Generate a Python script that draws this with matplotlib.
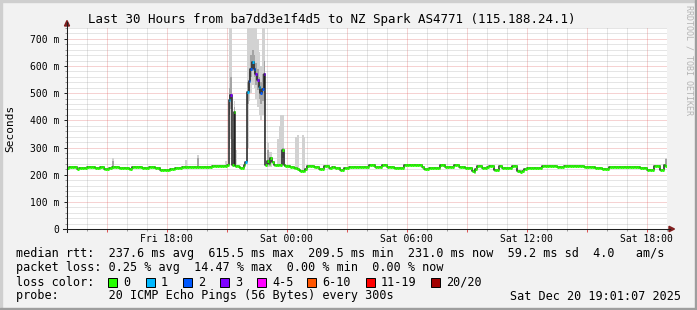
import datetime as dt
import numpy as np
import matplotlib
matplotlib.use('Agg')
import matplotlib.pyplot as plt
import matplotlib.dates as mdates
from matplotlib.patches import Rectangle, Polygon
from matplotlib.ticker import FuncFormatter, MultipleLocator

plt.rcParams['font.family'] = 'DejaVu Sans Mono'

# median rtt (ms), one value per 5 min step, Fri 13:01 -> Sat 19:01
median_ms = [
    224, 228, 228, 228, 228, 228,
    221, 226, 226, 226, 226, 226,
    228, 228, 228, 228, 228, 226,
    226, 226, 228, 228, 221, 221,
    221, 223, 223, 228, 228, 228,
    228, 226, 226, 226, 226, 226,
    226, 220, 220, 227, 227, 227,
    227, 227, 227, 223, 223, 223,
    223, 227, 227, 227, 227, 223,
    223, 223, 219, 219, 219, 219,
    219, 219, 221, 221, 221, 226,
    226, 223, 223, 228, 228, 228,
    228, 228, 228, 228, 228, 228,
    229, 229, 229, 229, 229, 229,
    229, 229, 229, 232, 232, 232,
    232, 232, 232, 232, 233, 233,
    236, 475, 494, 236, 431, 232,
    232, 230, 226, 226, 236, 248,
    505, 545, 590, 615, 590, 570,
    550, 522, 502, 515, 572, 236,
    250, 240, 262, 245, 236, 234,
    234, 234, 236, 290, 236, 232,
    232, 232, 228, 228, 226, 226,
    222, 218, 214, 213, 215, 220,
    232, 232, 232, 232, 227, 227,
    227, 222, 222, 222, 232, 232,
    232, 226, 226, 229, 229, 224,
    224, 224, 217, 217, 224, 224,
    224, 230, 230, 230, 230, 230,
    230, 230, 230, 230, 230, 230,
    230, 234, 234, 234, 234, 227,
    227, 227, 227, 234, 234, 234,
    227, 227, 227, 227, 224, 224,
    224, 224, 224, 224, 235, 235,
    235, 235, 235, 235, 235, 235,
    235, 235, 235, 230, 220, 220,
    220, 226, 226, 226, 226, 226,
    226, 226, 234, 234, 234, 230,
    230, 230, 230, 230, 234, 234,
    234, 227, 227, 227, 227, 224,
    224, 224, 224, 214, 211, 220,
    232, 232, 232, 224, 224, 224,
    230, 232, 232, 232, 217, 217,
    217, 232, 232, 226, 226, 226,
    226, 226, 226, 232, 232, 232,
    214, 214, 211, 214, 220, 220,
    224, 224, 224, 224, 224, 224,
    224, 224, 224, 232, 232, 232,
    232, 232, 232, 232, 232, 232,
    227, 227, 227, 227, 232, 232,
    232, 232, 232, 232, 232, 232,
    232, 232, 232, 232, 227, 227,
    227, 227, 230, 230, 230, 224,
    224, 224, 224, 222, 222, 222,
    222, 230, 230, 230, 230, 230,
    230, 230, 230, 227, 227, 227,
    227, 227, 227, 230, 230, 230,
    230, 230, 226, 226, 226, 226,
    217, 217, 217, 217, 232, 232,
    232, 232, 217, 217, 234, 231,
]

# steps with packet loss (index into legend bins)
loss_steps = [97, 98, 107, 108, 109, 110, 111, 112, 113, 114, 115, 116, 117, 118]
loss_bins = [1, 3, 1, 1, 2, 2, 1, 2, 3, 3, 1, 2, 2, 3]

# smoke: full ping spread (light) where visible
smoke_steps = [27, 71, 78, 95, 97, 98, 99, 100, 101, 108, 109, 110, 111, 112, 113,
               114, 115, 116, 117, 118, 120, 121, 122, 126, 127, 128, 129, 130,
               137, 138, 141, 142, 359]
smoke_lo = [222, 220, 226, 230, 300, 330, 232, 240, 228, 300, 470, 500, 530, 520, 480,
            450, 420, 400, 420, 300, 228, 228, 230, 230, 240, 240, 240, 230,
            222, 218, 213, 215, 230]
smoke_hi = [260, 254, 273, 250, 760, 760, 330, 470, 290, 760, 760, 760, 760, 760, 760,
            700, 650, 600, 760, 760, 317, 283, 283, 330, 380, 420, 420, 300,
            340, 346, 346, 340, 262]

# darker core of the smoke
core_steps = [27, 78, 97, 98, 100, 108, 109, 110, 111, 112, 113, 114, 115, 116, 117,
              118, 120, 129, 359]
core_lo = [228, 230, 420, 440, 360, 460, 510, 560, 580, 560, 530, 510, 480, 460, 470,
           500, 240, 260, 234]
core_hi = [250, 262, 520, 560, 450, 540, 580, 640, 660, 640, 610, 590, 560, 540, 570,
           620, 290, 300, 258]

loss_labels = ['0', '1', '2', '3', '4-5', '6-10', '11-19', '20/20']
loss_colors = ['#26ff00', '#00b8ff', '#0059ff', '#7e00ff', '#ff00ff', '#ff5500', '#ff0000', '#a10000']

title = 'Last 30 Hours from ba7dd3e1f4d5 to NZ Spark AS4771 (115.188.24.1)'
legend_lines = [
    'median rtt:  237.6 ms avg  615.5 ms max  209.5 ms min  231.0 ms now  59.2 ms sd  4.0   am/s',
    'packet loss: 0.25 % avg  14.47 % max  0.00 % min  0.00 % now',
    'loss color:',
    'probe:       20 ICMP Echo Pings (56 Bytes) every 300s',
]
stamp = 'Sat Dec 20 19:01:07 2025'
legend_y = [254, 268, 282, 296]
box_x = [108, 146, 183, 220, 257, 307, 366, 431]

# time axis
t0 = mdates.date2num(dt.datetime(2025, 12, 19, 13, 1, 7))
step = 5 / 1440
n = len(median_ms)
edges = t0 + np.arange(n + 1) * step
med = np.array(median_ms, dtype=float)

fig = plt.figure(figsize=(6.97, 3.10), dpi=100)
fig.patch.set_facecolor('#f2f2f2')

ax = fig.add_axes([67 / 697, 81 / 310, 600 / 697, 201 / 310])
ax.set_facecolor('white')
ax.set_xlim(edges[0], edges[-1])
ax.set_ylim(0, 740)
ax.set_axisbelow(True)

# smoke
s_idx = np.array(smoke_steps)
ax.bar(edges[s_idx], np.array(smoke_hi) - np.array(smoke_lo), bottom=smoke_lo,
       width=step, align='edge', color='#d2d2d2', linewidth=0, zorder=2)
c_idx = np.array(core_steps)
ax.bar(edges[c_idx], np.array(core_hi) - np.array(core_lo), bottom=core_lo,
       width=step, align='edge', color='#a4a4a4', linewidth=0, zorder=2)

# median: thin dark line plus loss-coloured segments
ax.step(edges, np.append(med, med[-1]), where='post', color='#202020', lw=1.1, zorder=3)
seg_colors = [loss_colors[0]] * n
for i, b in zip(loss_steps, loss_bins):
    seg_colors[i] = loss_colors[b]
ax.hlines(med, edges[:-1], edges[1:], colors=seg_colors, lw=2.1, zorder=4)

# grid and ticks
ax.xaxis.set_major_locator(mdates.HourLocator(byhour=range(0, 24, 3)))
ax.xaxis.set_minor_locator(mdates.HourLocator())
ax.yaxis.set_major_locator(MultipleLocator(100))
ax.yaxis.set_minor_locator(MultipleLocator(20))
ax.grid(which='major', color='#de4f4f', alpha=0.5, ls=(0, (1, 1)), lw=0.72)
ax.grid(which='minor', color='#8f8f8f', alpha=0.45, ls=(0, (1, 1)), lw=0.72)


def xfmt(v, pos):
    d = mdates.num2date(v)
    return d.strftime('%a %H:%M') if d.hour % 6 == 0 else ''


ax.xaxis.set_major_formatter(FuncFormatter(xfmt))
ax.yaxis.set_major_formatter(FuncFormatter(lambda v, p: '0' if v == 0 else f'{v:.0f} m'))
ax.tick_params(axis='y', which='major', labelsize=7, length=2.2, width=0.7,
               color='#1f1f1f', pad=3.6)
ax.tick_params(axis='x', which='major', labelsize=7, length=2.2, width=0.7,
               color='#de4f4f', pad=1.5)
ax.tick_params(which='minor', length=1.5, width=0.7, color='#9a9a9a')
for sp in ax.spines.values():
    sp.set_visible(False)

# overlay in pixel coordinates for text, legend and frame
ov = fig.add_axes([0, 0, 1, 1])
ov.set_xlim(0, 697)
ov.set_ylim(310, 0)
ov.axis('off')
ov.patch.set_visible(False)

# axis lines with arrows
ov.plot([67, 67], [232, 22], color='#1f1f1f', lw=0.75)
ov.plot([63, 670], [229, 229], color='#1f1f1f', lw=0.75)
ov.add_patch(Polygon([(64.5, 26), (69.5, 26), (67, 20.5)], closed=True, color='#801f1f'))
ov.add_patch(Polygon([(669, 226.3), (669, 231.7), (674.5, 229)], closed=True, color='#801f1f'))

# frame shading
ov.add_patch(Rectangle((0, 0), 697, 2, color='#cfcfcf', clip_on=False))
ov.add_patch(Rectangle((0, 0), 2, 310, color='#cfcfcf', clip_on=False))
ov.add_patch(Rectangle((695, 0), 2, 310, color='#9e9e9e', clip_on=False))
ov.add_patch(Rectangle((0, 308), 697, 2, color='#9e9e9e', clip_on=False))

ov.text(332, 19, title, ha='center', va='center', fontsize=9)
ov.text(10, 128, 'Seconds', rotation=90, ha='center', va='center', fontsize=8)
ov.text(689, 5, 'RRDTOOL / TOBI OETIKER', rotation=270, ha='center', va='top',
        fontsize=6, color='#b4b4b4')

for s, y in zip(legend_lines, legend_y):
    ov.text(16, y, s, ha='left', va='center', fontsize=8.45)
ov.text(681, legend_y[3], stamp, ha='right', va='center', fontsize=8.45)

for x, lab, col in zip(box_x, loss_labels, loss_colors):
    ov.add_patch(Rectangle((x, 277.5), 9, 9, facecolor=col, edgecolor='black', lw=0.7))
    ov.text(x + 15, 282, lab, ha='left', va='center', fontsize=8.45)

fig.savefig('out.png', dpi=100, facecolor=fig.get_facecolor())
